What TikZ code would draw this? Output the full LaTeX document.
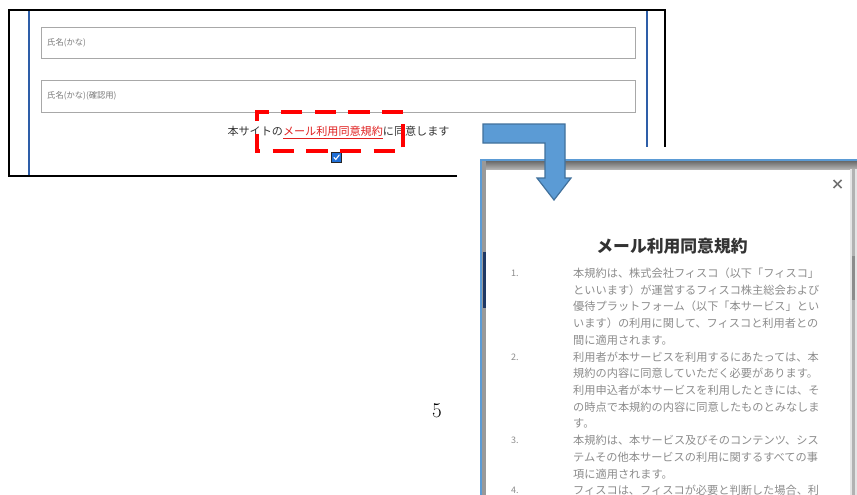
\documentclass[tikz,border=0pt]{standalone}
\usepackage{fontspec}
\newfontfamily\jp{Noto Sans CJK JP}
\definecolor{frameblue}{HTML}{2E5EA8}
\definecolor{arrowfill}{HTML}{5B9BD5}
\definecolor{arrowline}{HTML}{41719C}
\definecolor{fieldgrey}{HTML}{A8A8A8}
\definecolor{phgrey}{HTML}{7A7A7A}
\definecolor{txtdark}{HTML}{333333}
\definecolor{linkred}{HTML}{E02020}
\definecolor{listgrey}{HTML}{8C8C8C}
\definecolor{navy}{HTML}{1F3864}
\definecolor{cbblue}{HTML}{1F6FD6}
\tikzset{
  field/.style={draw=fieldgrey, line width=0.9pt, fill=white},
  placeholder/.style={anchor=west, inner sep=0pt, text=phgrey, font=\jp\fontsize{8.3}{9}\selectfont},
  agree/.style={inner sep=0pt, text=txtdark, font=\jp\fontsize{11.1}{12}\selectfont},
  listtxt/.style={anchor=west, inner sep=0pt, text=listgrey, font=\jp\fontsize{11.2}{12}\selectfont},
  listnum/.style={anchor=west, inner sep=0pt, text=listgrey, font=\jp\fontsize{9}{10}\selectfont},
  reddash/.style={draw=red, line width=4pt, line join=miter, dash pattern=on 21.3pt off 12.3pt, dash phase=3.3pt},
}
\begin{document}
\begin{tikzpicture}[x=1pt,y=-1pt]
\path[use as bounding box, fill=white] (0,0) rectangle (857,495);

% ---------- top screenshot ----------
\draw[line width=1.8pt] (457,176) -- (9,176) -- (9,10) -- (665,10) -- (665,147);
\draw[frameblue, line width=1.6pt] (29,10.9) -- (29,175);
\draw[frameblue, line width=1.6pt] (647,10.9) -- (647,147);

\node[field, minimum width=594pt, minimum height=31pt, inner sep=0pt] (f1) at (338,42.5) {};
\node[field, minimum width=594pt, minimum height=32pt, inner sep=0pt] (f2) at (338,96) {};
\node[placeholder] (p1) at (47,42.5) {氏名(かな)};
\node[placeholder] (p2) at (47,96) {氏名(かな)(確認用)};

\node[agree] (ag) at (338.5,132.5) {本サイトの{\color{linkred}\underline{メール利用同意規約}}に同意します};

\node[draw=black!85, line width=1.3pt, fill=cbblue, minimum size=10pt, inner sep=0pt] (cb) at (336.5,157.5) {};
\draw[white, line width=1.1pt, line cap=round] ([shift={(-2.5pt,0pt)}]cb.center) -- ([shift={(-0.7pt,-2pt)}]cb.center) -- ([shift={(2.7pt,2.5pt)}]cb.center);

\node[minimum width=146pt, minimum height=39pt, inner sep=0pt] (hl) at (330,131.5) {};
\draw[reddash] ([yshift=-10.5pt]hl.east) -- (hl.north east) -- (hl.north west) -- (hl.south west) -- (hl.south east) -- cycle;

% ---------- popup screenshot ----------
\fill[white] (480,159) rectangle (857,495);
\shade[top color=black!60, bottom color=black!30] (480,160.5) rectangle (857,169);
\fill[black!40] (482,160) rectangle (485.5,495);
\draw[arrowfill, line width=1.6pt] (481,495) -- (481,159.8) -- (857,159.8);
\fill[navy] (482.5,252) rectangle (485.5,308);
\fill[black!10] (850,169) rectangle (857,495);
\fill[black!30] (852,169) rectangle (855,495);
\fill[black!45] (852,256) rectangle (855,300);

\coordinate (xc) at (837.5,184);
\draw[black!55, line width=1.5pt] ([shift={(-4pt,-4pt)}]xc) -- ([shift={(4pt,4pt)}]xc);
\draw[black!55, line width=1.5pt] ([shift={(-4pt,4pt)}]xc) -- ([shift={(4pt,-4pt)}]xc);

\node[inner sep=0pt, text=txtdark, font=\jp\bfseries\fontsize{16.8}{18}\selectfont] (title) at (672,246) {メール利用同意規約};

\node[listnum] (n1) at (511,273) {1.};
\node[listnum] (n2) at (511,356.8) {2.};
\node[listnum] (n3) at (511,440.5) {3.};
\node[listnum] (n4) at (511,490.7) {4.};

\node[listtxt] (l0) at (573,273.0) {本規約は、株式会社フィスコ（以下「フィスコ」};
\node[listtxt] (l1) at (573,289.8) {といいます）が運営するフィスコ株主総会および};
\node[listtxt] (l2) at (573,306.5) {優待プラットフォーム（以下「本サービス」とい};
\node[listtxt] (l3) at (573,323.3) {います）の利用に関して、フィスコと利用者との};
\node[listtxt] (l4) at (573,340.0) {間に適用されます。};
\node[listtxt] (l5) at (573,356.8) {利用者が本サービスを利用するにあたっては、本};
\node[listtxt] (l6) at (573,373.5) {規約の内容に同意していただく必要があります。};
\node[listtxt] (l7) at (573,390.3) {利用申込者が本サービスを利用したときには、そ};
\node[listtxt] (l8) at (573,407.0) {の時点で本規約の内容に同意したものとみなしま};
\node[listtxt] (l9) at (573,423.8) {す。};
\node[listtxt] (l10) at (573,440.5) {本規約は、本サービス及びそのコンテンツ、シス};
\node[listtxt] (l11) at (573,457.3) {テムその他本サービスの利用に関するすべての事};
\node[listtxt] (l12) at (573,474.0) {項に適用されます。};
\node[listtxt] (l13) at (573,490.7) {フィスコは、フィスコが必要と判断した場合、利};

% ---------- bent arrow ----------
\draw[fill=arrowfill, draw=arrowline, line width=1.2pt, line join=miter]
  (483,124) -- (565,124) -- (565,178) -- (571,178) -- (554,200) -- (537,178)
  -- (545,178) -- (545,143) -- (483,143) -- cycle;

% ---------- page number ----------
\node[inner sep=0pt, font=\fontsize{21}{23}\selectfont] (pg) at (437,411) {5};
\end{tikzpicture}
\end{document}
